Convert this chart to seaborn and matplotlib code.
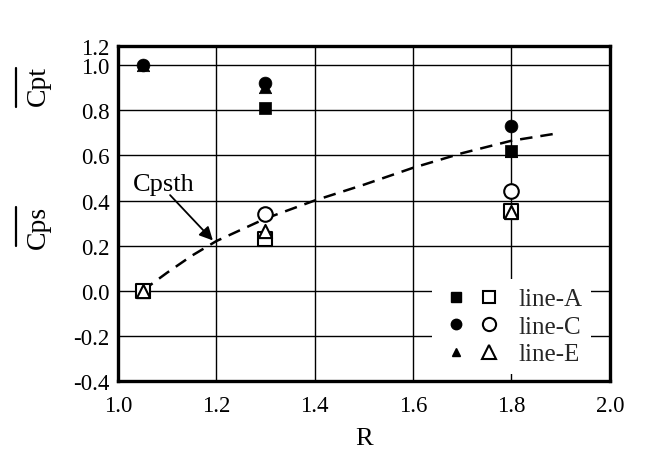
import numpy as np
import pandas as pd
import seaborn as sns
import matplotlib
matplotlib.use("Agg")
import matplotlib.pyplot as plt
from matplotlib.lines import Line2D
from matplotlib.legend_handler import HandlerTuple

# ---- data ----
R_pts = [1.05, 1.30, 1.80]
cpt_A = [np.nan, 0.81, 0.62]
cpt_C = [1.00, 0.92, 0.73]
cpt_E = [1.00, 0.905, 0.62]
cps_A = [0.00, 0.23, 0.355]
cps_C = [np.nan, 0.34, 0.44]
cps_E = [0.00, 0.265, 0.35]

R_th = [1.05, 1.10, 1.15, 1.20, 1.30, 1.40, 1.50, 1.60, 1.70, 1.80, 1.90]
cps_th = [0.00, 0.08, 0.155, 0.22, 0.32, 0.40, 0.47, 0.545, 0.61, 0.665, 0.70]

x_ticks = [1.0, 1.2, 1.4, 1.6, 1.8, 2.0]
x_labels = ["1.0", "1.2", "1.4", "1.6", "1.8", "2.0"]
y_ticks = [-0.4, -0.2, 0.0, 0.2, 0.4, 0.6, 0.8, 1.0, 1.085]
y_labels = ["-0.4", "-0.2", "0.0", "0.2", "0.4", "0.6", "0.8", "1.0", "1.2"]
legend_labels = ["line-A", "line-C", "line-E"]

# ---- style ----
sns.set_theme(style="white")
plt.rcParams["font.family"] = ["Liberation Serif", "DejaVu Serif"]

fig = plt.figure(figsize=(6.48, 4.52), dpi=100)
ax = fig.add_axes([0.182, 0.155, 0.759, 0.741])

# theoretical curve
sns.lineplot(x=R_th, y=cps_th, ax=ax, color="black", lw=1.8,
             linestyle=(0, (5, 3.2)), sort=False, zorder=2)

# filled (Cpt) markers
sns.scatterplot(x=R_pts, y=cpt_A, ax=ax, marker="s", s=80, color="black",
                edgecolor="black", linewidth=0.5, zorder=3)
sns.scatterplot(x=R_pts, y=cpt_C, ax=ax, marker="o", s=85, color="black",
                edgecolor="black", linewidth=0.5, zorder=3)
sns.scatterplot(x=R_pts, y=cpt_E, ax=ax, marker="^", s=80, color="black",
                edgecolor="black", linewidth=0.5, zorder=3)
# open (Cps) markers
sns.scatterplot(x=R_pts, y=cps_C, ax=ax, marker="o", s=110, color="white",
                edgecolor="black", linewidth=1.5, zorder=3)
sns.scatterplot(x=R_pts, y=cps_A, ax=ax, marker="s", s=110, color="white",
                edgecolor="black", linewidth=1.5, zorder=3)
sns.scatterplot(x=R_pts, y=cps_E, ax=ax, marker="^", s=90, color="white",
                edgecolor="black", linewidth=1.5, zorder=4)

ax.set_xlim(1.0, 2.0)
ax.set_ylim(-0.4, 1.085)
ax.set_xticks(x_ticks)
ax.set_xticklabels(x_labels)
ax.set_yticks(y_ticks)
ax.set_yticklabels(y_labels)
ax.tick_params(axis="both", length=0, labelsize=16.5, colors="black")
ax.tick_params(axis="x", pad=10)
ax.tick_params(axis="y", pad=6)
ax.grid(True, color="black", lw=1.0)
ax.set_axisbelow(True)
for sp in ax.spines.values():
    sp.set_color("black")
    sp.set_linewidth(2.4)

ax.set_xlabel("R", fontsize=19, color="black", labelpad=8)
ax.set_ylabel("")

# annotation
ax.annotate("", xy=(1.193, 0.223), xytext=(1.106, 0.424),
            arrowprops=dict(arrowstyle="-|>", color="black", lw=1.3,
                            mutation_scale=20, shrinkA=0, shrinkB=0))
ax.text(1.030, 0.446, "Cpsth", fontsize=19, ha="left", va="baseline", color="black")

# y-axis labels with overline (bar drawn as a separate line)
fig.text(0.059, 0.81, "Cpt", rotation=90, fontsize=20,
         ha="center", va="center", color="black")
fig.text(0.059, 0.496, "Cps", rotation=90, fontsize=20,
         ha="center", va="center", color="black")
fig.add_artist(Line2D([0.025, 0.025], [0.761, 0.847], transform=fig.transFigure,
                      color="black", lw=1.6))
fig.add_artist(Line2D([0.025, 0.025], [0.454, 0.540], transform=fig.transFigure,
                      color="black", lw=1.6))

# legend
mk = [("s", 7, 9), ("o", 7.5, 9.5), ("^", 6, 9.5)]
handles = []
for m, sf, so in mk:
    f = Line2D([], [], marker=m, ls="none", color="black", markersize=sf)
    o = Line2D([], [], marker=m, ls="none", color="black", markerfacecolor="white",
               markeredgewidth=1.5, markersize=so)
    handles.append((f, o))
leg = ax.legend(handles, legend_labels, handler_map={tuple: HandlerTuple(ndivide=None, pad=0.13)},
                loc="lower right", bbox_to_anchor=(0.962, 0.021), frameon=True,
                facecolor="white", edgecolor="none", framealpha=1.0, fontsize=18,
                handlelength=2.55, handletextpad=0.57, labelspacing=0.2,
                borderpad=0.34, borderaxespad=0.0, fancybox=False)
leg.set_zorder(10)

fig.savefig("out.png", dpi=100)
